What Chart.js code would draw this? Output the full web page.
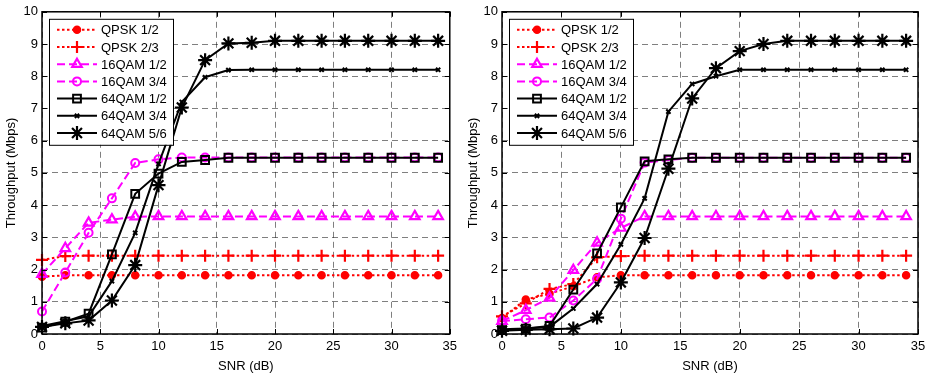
<!DOCTYPE html>
<html>
<head>
<meta charset="utf-8">
<script src="https://cdn.jsdelivr.net/npm/chart.js@4.4.1/dist/chart.umd.min.js"></script>
<style>
  html, body { margin: 0; padding: 0; background: #fff; }
  #wrap { position: relative; width: 933px; height: 374px; }
  .box { position: absolute; top: 0; height: 374px; }
</style>
</head>
<body>
<div id="wrap">
  <div class="box" style="left:0;width:462px"><canvas id="leftChart" width="462" height="374"></canvas></div>
  <div class="box" style="left:462px;width:471px"><canvas id="rightChart" width="471" height="374"></canvas></div>
</div>
<script>
const snr = [0, 2, 4, 6, 8, 10, 12, 14, 16, 18, 20, 22, 24, 26, 28, 30, 32, 34];
const seriesNames = ['QPSK 1/2', 'QPSK 2/3', '16QAM 1/2', '16QAM 3/4', '64QAM 1/2', '64QAM 3/4', '64QAM 5/6'];
const xTicks = [0, 5, 10, 15, 20, 25, 30, 35];
const yTicks = [0, 1, 2, 3, 4, 5, 6, 7, 8, 9, 10];

// left plot
const leftQpsk12  = [1.78, 1.82, 1.82, 1.82, 1.82, 1.82, 1.82, 1.82, 1.82, 1.82, 1.82, 1.82, 1.82, 1.82, 1.82, 1.82, 1.82, 1.82];
const leftQpsk23  = [2.3, 2.42, 2.43, 2.43, 2.43, 2.43, 2.43, 2.43, 2.43, 2.43, 2.43, 2.43, 2.43, 2.43, 2.43, 2.43, 2.43, 2.43];
const left16qam12 = [1.86, 2.66, 3.45, 3.55, 3.64, 3.65, 3.65, 3.65, 3.65, 3.65, 3.65, 3.65, 3.65, 3.65, 3.65, 3.65, 3.65, 3.65];
const left16qam34 = [0.7, 1.91, 3.14, 4.21, 5.31, 5.42, 5.48, 5.48, 5.48, 5.48, 5.48, 5.48, 5.48, 5.48, 5.48, 5.48, 5.48, 5.48];
const left64qam12 = [0.2, 0.38, 0.63, 2.47, 4.35, 4.98, 5.34, 5.4, 5.47, 5.47, 5.47, 5.47, 5.47, 5.47, 5.47, 5.47, 5.47, 5.47];
const left64qam34 = [0.25, 0.4, 0.55, 1.64, 3.14, 5.28, 7.2, 7.97, 8.19, 8.2, 8.2, 8.2, 8.2, 8.2, 8.2, 8.2, 8.2, 8.2];
const left64qam56 = [0.22, 0.33, 0.42, 1.04, 2.14, 4.62, 7.03, 8.5, 9.02, 9.04, 9.1, 9.1, 9.1, 9.1, 9.1, 9.1, 9.1, 9.1];

// right plot
const rightQpsk12  = [0.5, 1.07, 1.25, 1.48, 1.76, 1.82, 1.82, 1.82, 1.82, 1.82, 1.82, 1.82, 1.82, 1.82, 1.82, 1.82, 1.82, 1.82];
const rightQpsk23  = [0.55, 0.95, 1.4, 1.55, 2.38, 2.42, 2.43, 2.43, 2.43, 2.43, 2.43, 2.43, 2.43, 2.43, 2.43, 2.43, 2.43, 2.43];
const right16qam12 = [0.4, 0.74, 1.12, 1.98, 2.83, 3.29, 3.65, 3.65, 3.65, 3.65, 3.65, 3.65, 3.65, 3.65, 3.65, 3.65, 3.65, 3.65];
const right16qam34 = [0.4, 0.46, 0.51, 1.04, 1.71, 3.58, 5.32, 5.4, 5.47, 5.47, 5.47, 5.47, 5.47, 5.47, 5.47, 5.47, 5.47, 5.47];
const right64qam12 = [0.12, 0.17, 0.25, 1.38, 2.5, 3.93, 5.36, 5.42, 5.47, 5.47, 5.47, 5.47, 5.47, 5.47, 5.47, 5.47, 5.47, 5.47];
const right64qam34 = [0.15, 0.17, 0.22, 0.79, 1.55, 2.78, 4.21, 6.9, 7.76, 8.0, 8.2, 8.2, 8.2, 8.2, 8.2, 8.2, 8.2, 8.2];
const right64qam56 = [0.1, 0.13, 0.15, 0.17, 0.51, 1.6, 2.98, 5.13, 7.31, 8.25, 8.78, 9.0, 9.1, 9.1, 9.1, 9.1, 9.1, 9.1];

const styles = [
  { color: '#ff0000', dash: [2.5, 2.5], pointStyle: 'circle', radius: 3.5, fill: '#ff0000', pw: 1.5 },
  { color: '#ff0000', dash: [2.5, 2.5], pointStyle: 'cross', radius: 6, fill: 'transparent', pw: 2.2 },
  { color: '#ff00ff', dash: [8, 4], pointStyle: 'triangle', radius: 5.5, fill: 'transparent', pw: 2.2 },
  { color: '#ff00ff', dash: [8, 4], pointStyle: 'circle', radius: 4, fill: 'transparent', pw: 2 },
  { color: '#000000', dash: [], pointStyle: 'rect', radius: 5.5, fill: 'transparent', pw: 2 },
  { color: '#000000', dash: [], pointStyle: 'crossRot', radius: 3, fill: 'transparent', pw: 2 },
  { color: '#000000', dash: [], pointStyle: 'star', radius: 7, fill: 'transparent', pw: 2.2 }
];

Chart.defaults.font.family = '"Liberation Sans", Arial, sans-serif';
Chart.defaults.font.size = 13;
Chart.defaults.color = '#000';

function makeDatasets(series) {
  return series.map(function(values, i) {
    const s = styles[i];
    return {
      label: seriesNames[i],
      data: values.map(function(v, k) { return { x: snr[k], y: v }; }),
      borderColor: s.color,
      borderDash: s.dash,
      borderWidth: 2,
      backgroundColor: s.fill,
      pointStyle: s.pointStyle,
      pointRadius: s.radius,
      pointBorderColor: s.color,
      pointBackgroundColor: s.fill,
      pointBorderWidth: s.pw,
      tension: 0,
      clip: false,
      order: 10 - i
    };
  });
}

// inward ticks + full box like matlab
const boxTicks = {
  id: 'boxTicks',
  afterDraw(chart) {
    const ctx = chart.ctx;
    const a = chart.chartArea;
    const xs = chart.scales.x, ys = chart.scales.y;
    ctx.save();
    ctx.strokeStyle = '#000';
    ctx.lineWidth = 1;
    ctx.beginPath();
    xTicks.forEach(function(t) {
      const px = Math.round(xs.getPixelForValue(t)) + 0.5;
      ctx.moveTo(px, a.bottom); ctx.lineTo(px, a.bottom - 5);
      ctx.moveTo(px, a.top); ctx.lineTo(px, a.top + 5);
    });
    yTicks.forEach(function(t) {
      const py = Math.round(ys.getPixelForValue(t)) + 0.5;
      ctx.moveTo(a.left, py); ctx.lineTo(a.left + 5, py);
      ctx.moveTo(a.right, py); ctx.lineTo(a.right - 5, py);
    });
    ctx.stroke();
    ctx.lineWidth = 1.5;
    ctx.strokeRect(a.left, a.top, a.right - a.left, a.bottom - a.top);
    ctx.restore();
  }
};

// legend with line sample and marker
const lineLegend = {
  id: 'lineLegend',
  afterDraw(chart) {
    const ctx = chart.ctx;
    const a = chart.chartArea;
    const x0 = a.left + 7, y0 = a.top + 7;
    const w = 124, h = 126, rowH = 17.2;
    ctx.save();
    ctx.fillStyle = '#fff';
    ctx.fillRect(x0, y0, w, h);
    ctx.strokeStyle = '#000';
    ctx.lineWidth = 1;
    ctx.strokeRect(x0 + 0.5, y0 + 0.5, w, h);
    chart.data.datasets.forEach(function(ds, i) {
      const y = y0 + 11 + i * rowH;
      ctx.beginPath();
      ctx.strokeStyle = ds.borderColor;
      ctx.lineWidth = 2;
      ctx.setLineDash(ds.borderDash);
      ctx.moveTo(x0 + 8, y);
      ctx.lineTo(x0 + 48, y);
      ctx.stroke();
      ctx.setLineDash([]);
      ctx.fillStyle = ds.pointBackgroundColor;
      ctx.strokeStyle = ds.pointBorderColor;
      ctx.lineWidth = ds.pointBorderWidth;
      Chart.helpers.drawPoint(ctx, {
        pointStyle: ds.pointStyle,
        radius: ds.pointRadius,
        rotation: 0,
        borderWidth: ds.pointBorderWidth
      }, x0 + 28, y);
      ctx.fillStyle = '#000';
      ctx.font = '13px "Liberation Sans", Arial, sans-serif';
      ctx.textBaseline = 'middle';
      ctx.fillText(ds.label, x0 + 52, y + 1);
    });
    ctx.restore();
  }
};

function makeChart(id, series, padRight, yWidth) {
  return new Chart(document.getElementById(id), {
    type: 'line',
    data: { datasets: makeDatasets(series) },
    plugins: [boxTicks, lineLegend],
    options: {
      responsive: false,
      animation: false,
      layout: { padding: { top: 8, right: padRight, left: 0, bottom: 0 } },
      plugins: { legend: { display: false }, tooltip: { enabled: false } },
      scales: {
        x: {
          type: 'linear',
          min: 0,
          max: 35,
          afterBuildTicks: function(scale) { scale.ticks = xTicks.map(function(v) { return { value: v }; }); },
          afterFit: function(scale) { scale.height = 40; },
          grid: { color: 'rgba(0,0,0,0.5)', drawTicks: false, lineWidth: 1 },
          border: { display: false, dash: [6, 4] },
          ticks: { padding: 5, maxRotation: 0, font: { size: 13 } },
          title: { display: true, text: 'SNR (dB)', padding: { top: 0, bottom: 0 }, font: { size: 13 } }
        },
        y: {
          type: 'linear',
          min: 0,
          max: 10,
          afterBuildTicks: function(scale) { scale.ticks = yTicks.map(function(v) { return { value: v }; }); },
          afterFit: function(scale) { scale.width = yWidth; },
          grid: { color: 'rgba(0,0,0,0.5)', drawTicks: false, lineWidth: 1 },
          border: { display: false, dash: [6, 4] },
          ticks: { padding: 4, font: { size: 13 } },
          title: { display: true, text: 'Throughput (Mbps)', padding: { top: 4, bottom: 0 }, font: { size: 13 } }
        }
      }
    }
  });
}

makeChart('leftChart', [leftQpsk12, leftQpsk23, left16qam12, left16qam34, left64qam12, left64qam34, left64qam56], 6, 42);
makeChart('rightChart', [rightQpsk12, rightQpsk23, right16qam12, right16qam34, right64qam12, right64qam34, right64qam56], 15, 40);
</script>
</body>
</html>
